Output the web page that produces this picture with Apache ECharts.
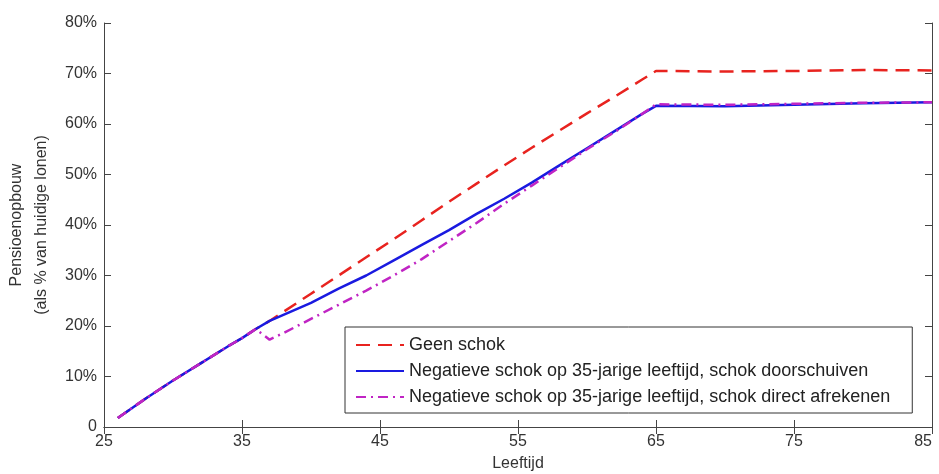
<!DOCTYPE html>
<html>
<head>
<meta charset="utf-8">
<script src="https://cdn.jsdelivr.net/npm/echarts@6/dist/echarts.min.js"></script>
<style>
  html, body { margin: 0; padding: 0; background: #fff; }
  #main { width: 939px; height: 474px; }
</style>
</head>
<body>
<div id="main"></div>
<script>
// leeftijden (x) en pensioenopbouw in % van huidige lonen
var ages = [26, 28, 30, 32, 34, 35, 36, 37, 38, 40, 42, 44, 46, 48, 50, 52, 54, 56, 58, 60, 62, 64, 65, 70, 75, 80, 85];
var geenSchok = [1.8, 5.6, 9.2, 12.6, 16.0, 17.6, 19.4, 21.0, 22.8, 26.4, 30.0, 33.6, 37.2, 40.9, 44.6, 48.2, 51.8, 55.3, 58.7, 62.1, 65.4, 68.8, 70.5, 70.4, 70.5, 70.7, 70.6];
var doorschuiven = [1.8, 5.6, 9.2, 12.6, 16.0, 17.6, 19.4, 21.0, 22.2, 24.6, 27.4, 30.0, 33.0, 36.0, 39.0, 42.2, 45.2, 48.4, 51.8, 55.2, 58.6, 62.0, 63.6, 63.5, 63.8, 64.1, 64.3];
var directAfrekenen = [1.8, 5.6, 9.2, 12.6, 16.0, 17.6, 19.4, 17.3, 18.6, 21.4, 24.2, 27.0, 30.0, 33.2, 36.8, 40.4, 44.2, 47.8, 51.4, 55.0, 58.4, 62.0, 63.9, 63.8, 64.0, 64.2, 64.3];
var seriesNames = [
  'Geen schok',
  'Negatieve schok op 35-jarige leeftijd, schok doorschuiven',
  'Negatieve schok op 35-jarige leeftijd, schok direct afrekenen'
];

function pairs(vals) {
  return ages.map(function (a, i) { return [a, vals[i]]; });
}

var chart = echarts.init(document.getElementById('main'));
var font = 'Liberation Sans, Arial, sans-serif';
var axisCol = '#444';

var option = {
  animation: false,
  backgroundColor: '#fff',
  textStyle: { fontFamily: font },
  grid: { left: 104, right: 7, top: 23, bottom: 47, containLabel: false, outerBoundsMode: 'none' },
  legend: {
    orient: 'vertical',
    left: 345,
    top: 327,
    padding: [9, 22, 7, 10],
    itemGap: 8,
    itemWidth: 48,
    itemHeight: 14,
    borderColor: '#333',
    borderWidth: 1,
    backgroundColor: '#fff',
    itemStyle: { opacity: 0 },
    textStyle: { fontSize: 18, color: '#222', fontFamily: font },
    data: seriesNames
  },
  xAxis: [{
    type: 'value', min: 25, max: 85, interval: 10,
    name: 'Leeftijd', nameLocation: 'middle', nameGap: 29,
    nameTextStyle: { fontSize: 16, color: '#333' },
    axisLine: { lineStyle: { color: axisCol } },
    axisTick: { inside: true, length: 7, lineStyle: { color: axisCol } },
    axisLabel: { fontSize: 16, color: '#333', margin: 7, alignMaxLabel: 'right' },
    splitLine: { show: false }
  }, {
    type: 'value', min: 25, max: 85, interval: 10, position: 'top',
    axisLine: { lineStyle: { color: axisCol } },
    axisTick: { inside: true, length: 7, lineStyle: { color: axisCol } },
    axisLabel: { show: false },
    splitLine: { show: false }
  }],
  yAxis: [{
    type: 'value', min: 0, max: 80, interval: 10,
    name: 'Pensioenopbouw\n(als % van huidige lonen)', nameLocation: 'middle', nameGap: 46,
    nameTextStyle: { fontSize: 16, color: '#333', lineHeight: 25 },
    axisLine: { show: true, lineStyle: { color: axisCol } },
    axisTick: { show: true, inside: true, length: 7, lineStyle: { color: axisCol } },
    axisLabel: {
      fontSize: 16, color: '#333', margin: 7,
      formatter: function (v) { return v === 0 ? '0' : v + '%'; }
    },
    splitLine: { show: false }
  }, {
    type: 'value', min: 0, max: 80, interval: 10, position: 'right',
    axisLine: { show: true, lineStyle: { color: axisCol } },
    axisTick: { show: true, inside: true, length: 7, lineStyle: { color: axisCol } },
    axisLabel: { show: false },
    splitLine: { show: false }
  }],
  series: [{
    name: seriesNames[0], type: 'line', symbol: 'none',
    data: pairs(geenSchok),
    itemStyle: { color: '#e8231f' },
    lineStyle: { color: '#e8231f', width: 2.5, type: [14, 8] }
  }, {
    name: seriesNames[1], type: 'line', symbol: 'none',
    data: pairs(doorschuiven),
    itemStyle: { color: '#1a1ae0' },
    lineStyle: { color: '#1a1ae0', width: 2.5 }
  }, {
    name: seriesNames[2], type: 'line', symbol: 'none',
    data: pairs(directAfrekenen),
    itemStyle: { color: '#c024c4' },
    lineStyle: { color: '#c024c4', width: 2.5, type: [10, 5, 2, 5] }
  }]
};

chart.setOption(option);
</script>
</body>
</html>
